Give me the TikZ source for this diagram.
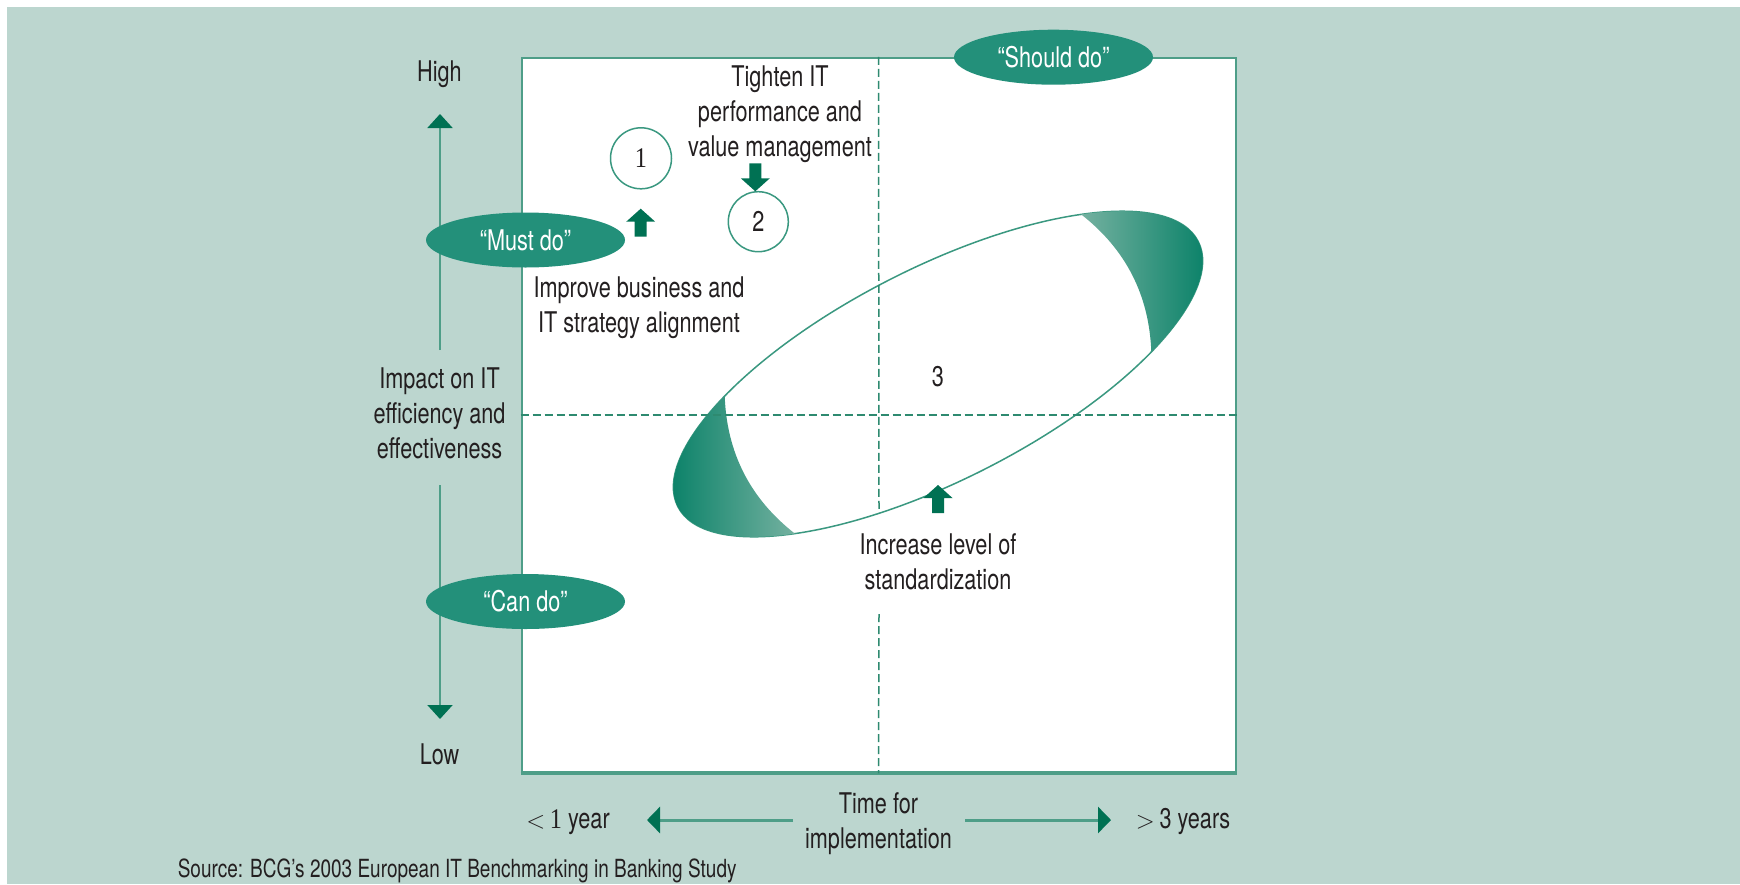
\documentclass[tikz,border=0pt]{standalone}
\usepackage{fontspec}
\setmainfont{TeX Gyre Heros}[FakeStretch=0.76]
\newfontfamily\onefont{Liberation Serif}[FakeStretch=0.85]
\usetikzlibrary{arrows.meta,shapes.geometric}
\definecolor{bgteal}{HTML}{BCD6CF}
\definecolor{labelgreen}{HTML}{23907A}
\definecolor{arrowgreen}{HTML}{007153}
\definecolor{linegreen}{HTML}{4E9E88}
\definecolor{dashgreen}{HTML}{2E8A70}
\definecolor{circgreen}{HTML}{3A9880}
\definecolor{textdark}{HTML}{231F20}
\definecolor{capdark}{HTML}{007D63}
\definecolor{capmid}{HTML}{1F876C}
\definecolor{caplight}{HTML}{74B1A0}
\begin{document}
\begin{tikzpicture}[x=1pt,y=-1pt,
  txt/.style={font=\fontsize{28.5}{35}\selectfont, text=textdark, align=center, inner sep=0pt},
  srctxt/.style={font=\fontsize{25}{30}\selectfont, text=textdark, inner sep=0pt},
  lbl/.style={ellipse, fill=labelgreen, minimum width=199pt, minimum height=55pt, inner sep=0pt, text=white, font=\fontsize{28.5}{35}\selectfont},
  numcircle/.style={circle, draw=circgreen, line width=1.5pt, minimum size=61pt, inner sep=0pt, fill=white, text=textdark, font=\fontsize{28.5}{35}\selectfont},
  axisline/.style={draw=linegreen, line width=2pt},
  timeline/.style={draw=linegreen, line width=3pt},
  dashline/.style={draw=dashgreen, line width=1.5pt, dash pattern=on 8pt off 4pt},
  ringline/.style={draw=circgreen, line width=1.5pt},
  blockup/.pic={\fill[arrowgreen] (-6,15) -- (-6,0) -- (-14.5,0) -- (0,-13) -- (14.5,0) -- (6,0) -- (6,15) -- cycle;}
]
\useasboundingbox (0,0) rectangle (1740,884);
\fill[white] (0,0) rectangle (1740,884);
\fill[bgteal] (7,7) rectangle (1740,884);

% plot area
\node[draw=linegreen, line width=2pt, fill=white, minimum width=714pt, minimum height=714.5pt, inner sep=0pt] (plot) at (878.5,415) {};
\draw[linegreen, line width=3pt] (plot.south west) -- (plot.south east);

% big ring
\begin{scope}[shift={(938,374)}, rotate=27, y=1pt]
  \draw[ringline] (0,0) ellipse [x radius=292, y radius=106];
  \shade[left color=capdark, middle color=capmid, right color=caplight] (-200,77.3) arc[start angle=133.2, end angle=226.8, x radius=292, y radius=106] .. controls (-224,-25.8) and (-224,25.8) .. (-200,77.3) -- cycle;
  \shade[left color=caplight, middle color=capmid, right color=capdark] (200,-77.3) arc[start angle=-46.8, end angle=46.8, x radius=292, y radius=106] .. controls (224,25.8) and (224,-25.8) .. (200,-77.3) -- cycle;
\end{scope}

% quadrant lines
\coordinate (vtopend) at (879,513);
\coordinate (vbotstart) at (879,614);
\draw[dashline] (plot.north) -- (vtopend);
\draw[dashline] (vbotstart) -- (plot.south);
\draw[dashline] (plot.west) -- (plot.east);

\node[txt] (three) at (938,376.7) {3};

% circles and block arrows
\node[numcircle] (one) at (641,158.3) {{\onefont 1}};
\node[numcircle, minimum size=60pt] (two) at (758.3,221.7) {2};
\pic at (640.7,221.7) {blockup};
\pic[rotate=180] at (755.3,178.3) {blockup};
\pic at (938,498) {blockup};

% texts in plot (base anchor = last line)
\node[txt, anchor=base] (tighten) at (780,156) {Tighten IT\\performance and\\value management};
\node[txt, anchor=base] (improve) at (639,332) {Improve business and\\IT strategy alignment};
\node[txt, anchor=base] (increase) at (938,589) {Increase level of\\standardization};

% vertical axis
\node[txt, anchor=base] (high) at (439.5,81) {High};
\node[txt] (low) at (439.5,754) {Low};
\node[txt, anchor=base] (impact) at (439.5,458) {Impact on IT\\efficiency and\\effectiveness};
\coordinate (yupstart) at (440,350);
\coordinate (yuptip) at (440,114);
\coordinate (ydnstart) at (440,485);
\coordinate (ydntip) at (440,719);
\draw[axisline, -{Triangle[length=14pt,width=25pt,color=arrowgreen]}] (yupstart) -- (yuptip);
\draw[axisline, -{Triangle[length=14pt,width=25pt,color=arrowgreen]}] (ydnstart) -- (ydntip);

% horizontal axis
\node[txt, anchor=base] (time) at (878.5,848) {Time for\\implementation};
\node[txt, anchor=base] (lessyear) at (568,828) {$<$\,{\onefont 1} year};
\node[txt, anchor=base] (moreyear) at (1183,828) {$>$\,3 years};
\coordinate (xlstart) at (793,820);
\coordinate (xltip) at (647,820);
\coordinate (xrstart) at (965,820);
\coordinate (xrtip) at (1111,820);
\draw[timeline, -{Triangle[length=13pt,width=26pt,color=arrowgreen]}] (xlstart) -- (xltip);
\draw[timeline, -{Triangle[length=13pt,width=26pt,color=arrowgreen]}] (xrstart) -- (xrtip);

% category labels
\node[lbl] (should) at (1053.5,57.2) {“Should do”};
\node[lbl] (must) at (525.5,240) {“Must do”};
\node[lbl] (cando) at (525.5,601.5) {“Can do”};

% source
\node[srctxt, anchor=base west] (source) at (177.6,877) {Source: BCG's 2003 European IT Benchmarking in Banking Study};
\end{tikzpicture}
\end{document}
